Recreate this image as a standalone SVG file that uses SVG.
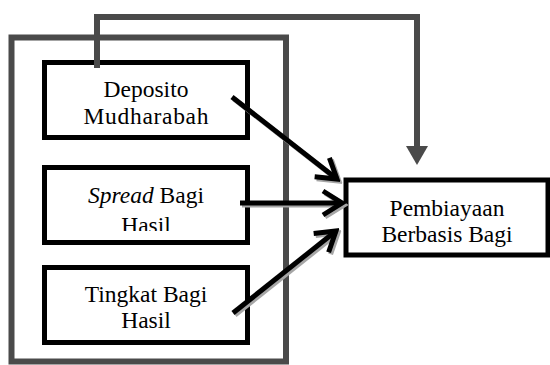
<svg xmlns="http://www.w3.org/2000/svg" width="550" height="365" viewBox="0 0 550 365">
<style>
.lbl{font-family:"Liberation Serif","Times New Roman",serif;font-size:23.5px;fill:#000;text-anchor:middle}
.box{fill:#fff;stroke:#000;stroke-width:5}
.grp{fill:none;stroke:#4a4a4a;stroke-width:6}
.arr{fill:none;stroke:#000;stroke-width:5}
.shd{fill:none;stroke:#a6a6a6;stroke-width:5}
</style>
<defs>
<marker id="hd" markerUnits="userSpaceOnUse" viewBox="-26 -16 30 32" refX="0" refY="0" markerWidth="30" markerHeight="32" orient="auto">
<path d="M-19,-12 L0,0 L-19,12" fill="none" stroke="#000" stroke-width="5"/>
</marker>
<marker id="hds" markerUnits="userSpaceOnUse" viewBox="-26 -16 30 32" refX="0" refY="0" markerWidth="30" markerHeight="32" orient="auto">
<path d="M-19,-12 L0,0 L-19,12" fill="none" stroke="#a6a6a6" stroke-width="5"/>
</marker>
<clipPath id="c2"><rect x="40" y="165" width="210" height="66"/></clipPath>
</defs>
<rect id="group" class="grp" x="11.5" y="37.5" width="274.5" height="324"/>
<g id="n1"><rect class="box" x="44.5" y="62.5" width="203" height="75"/>
<text class="lbl" x="146" y="97">Deposito</text><text class="lbl" x="146" y="124" textLength="125">Mudharabah</text></g>
<g id="n2"><rect class="box" x="44.5" y="167.5" width="203" height="75"/>
<g clip-path="url(#c2)"><text class="lbl" x="146" y="203"><tspan font-style="italic">Spread</tspan> Bagi</text><text class="lbl" x="146" y="232.5">Hasil</text></g></g>
<g id="n3"><rect class="box" x="44.5" y="267.5" width="203" height="75"/>
<text class="lbl" x="146" y="302">Tingkat Bagi</text><text class="lbl" x="146" y="328">Hasil</text></g>
<g id="n4"><rect class="box" x="346" y="180" width="202" height="75"/>
<text class="lbl" x="447" y="216">Pembiayaan</text><text class="lbl" x="447" y="242">Berbasis Bagi</text></g>
<g id="connectors">
<path class="grp" d="M97,68 V17 H417 V148"/>
<polygon points="406,146 428,146 417,165" fill="#4a4a4a"/>
<g transform="translate(2,2)">
<line class="shd" x1="232" y1="97" x2="337" y2="179" marker-end="url(#hds)"/>
<line class="shd" x1="240" y1="203" x2="342" y2="203" marker-end="url(#hds)"/>
<line class="shd" x1="233" y1="313" x2="336" y2="231" marker-end="url(#hds)"/>
</g>
<line class="arr" x1="232" y1="97" x2="337" y2="179" marker-end="url(#hd)"/>
<line class="arr" x1="240" y1="203" x2="342" y2="203" marker-end="url(#hd)"/>
<line class="arr" x1="233" y1="313" x2="336" y2="231" marker-end="url(#hd)"/>
</g>
</svg>
